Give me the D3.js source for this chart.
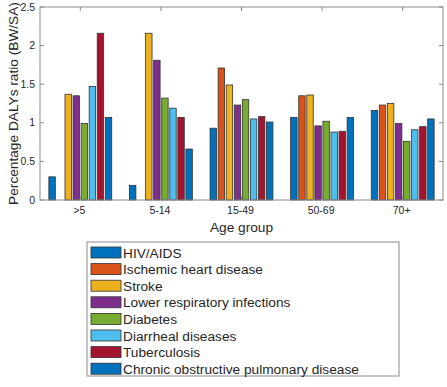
<!DOCTYPE html>
<html>
<head>
<meta charset="utf-8">
<script src="https://cdn.jsdelivr.net/npm/d3@7"></script>
<style>
  body { margin: 0; background: #fff; }
  text { font-family: "Liberation Sans", Arial, sans-serif; fill: #262626; }
</style>
</head>
<body>
<div id="container"></div>
<script>
/* DATA */
const ageGroups = [">5", "5-14", "15-49", "50-69", "70+"];
const diseases = ["HIV/AIDS", "Ischemic heart disease", "Stroke", "Lower respiratory infections",
  "Diabetes", "Diarrheal diseases", "Tuberculosis", "Chronic obstructive pulmonary disease"];
const colors = ["#0072BD", "#D95319", "#EDB120", "#7E2F8E", "#77AC30", "#4DBEEE", "#A2142F", "#0072BD"];
// one row per age group, one value per disease
const values = [
  [0.30, 0, 1.37, 1.35, 0.99, 1.47, 2.16, 1.07],
  [0.19, 0, 2.16, 1.81, 1.32, 1.19, 1.07, 0.66],
  [0.93, 1.71, 1.49, 1.23, 1.30, 1.05, 1.08, 1.01],
  [1.07, 1.35, 1.36, 0.96, 1.02, 0.88, 0.89, 1.07],
  [1.16, 1.23, 1.25, 0.99, 0.76, 0.91, 0.95, 1.05]
];
const yTicks = [0, 0.5, 1, 1.5, 2, 2.5];

/* LAYOUT */
const width = 447, height = 387;
const margin = {top: 7, left: 40, right: 4, bottom: 187}; // plot box 40..443 x 7..200

const svg = d3.select("#container").append("svg")
  .attr("width", width).attr("height", height);

// groups sit at 1..5 on a unit axis, like a matlab grouped bar
const xUnit = d3.scaleLinear()
  .domain([0.5, ageGroups.length + 0.5])
  .range([margin.left, width - margin.right]);

const groupWidth = 0.8;
const slot = groupWidth / diseases.length;   // 0.1 units per bar
const barW = xUnit(1 + slot * 0.8) - xUnit(1);

const yScale = d3.scaleLinear()
  .domain([0, 2.5])
  .range([200, margin.top]);

/* BARS */
const bars = [];
values.forEach((row, i) => row.forEach((v, j) => {
  if (v > 0) bars.push({g: i, j, v});
}));

svg.selectAll("rect.bar")
  .data(bars)
  .join("rect")
  .attr("class", "bar")
  .attr("x", d => xUnit(d.g + 1 + (d.j - 3.5) * slot) - barW / 2)
  .attr("width", barW)
  .attr("y", d => yScale(d.v))
  .attr("height", d => yScale(0) - yScale(d.v))
  .attr("fill", d => colors[d.j])
  .attr("stroke", "#333")
  .attr("stroke-width", 0.8);

/* AXES */
const axisColor = "#8a8a8a";
const x0 = margin.left, x1 = width - margin.right, y0 = yScale(0), y1 = yScale(2.5);

svg.append("rect")
  .attr("x", x0).attr("y", y1)
  .attr("width", x1 - x0).attr("height", y0 - y1)
  .attr("fill", "none").attr("stroke", axisColor).attr("stroke-width", 1);

// x ticks (inside, top and bottom)
ageGroups.forEach((g, i) => {
  const x = xUnit(i + 1);
  svg.append("line").attr("x1", x).attr("x2", x).attr("y1", y0).attr("y2", y0 - 4)
    .attr("stroke", axisColor);
  svg.append("line").attr("x1", x).attr("x2", x).attr("y1", y1).attr("y2", y1 + 4)
    .attr("stroke", axisColor);
  svg.append("text").attr("x", x - 1).attr("y", y0 + 14)
    .attr("text-anchor", "middle").attr("font-size", 10.5).text(g);
});

// y ticks
yTicks.forEach(t => {
  const y = yScale(t);
  svg.append("line").attr("x1", x0).attr("x2", x0 + 4).attr("y1", y).attr("y2", y)
    .attr("stroke", axisColor);
  svg.append("line").attr("x1", x1).attr("x2", x1 - 4).attr("y1", y).attr("y2", y)
    .attr("stroke", axisColor);
  svg.append("text").attr("x", x0 - 5).attr("y", y + 3.5)
    .attr("text-anchor", "end").attr("font-size", 10.5).text(t);
});

// axis titles
svg.append("text")
  .attr("transform", `translate(18,${(y0 + y1) / 2}) rotate(-90)`)
  .attr("text-anchor", "middle").attr("font-size", 13.7)
  .text("Percentage DALYs ratio (BW/SA)");

svg.append("text")
  .attr("x", (x0 + x1) / 2).attr("y", 232)
  .attr("text-anchor", "middle").attr("font-size", 13.7)
  .text("Age group");

/* LEGEND */
const legend = svg.append("g").attr("transform", "translate(87,242)");
legend.append("rect")
  .attr("width", 312).attr("height", 134)
  .attr("fill", "#fff").attr("stroke", axisColor).attr("stroke-width", 1);

const rowH = 16.6;
const items = legend.selectAll("g.item")
  .data(diseases)
  .join("g")
  .attr("class", "item")
  .attr("transform", (d, i) => `translate(0,${5 + i * rowH})`);

items.append("rect")
  .attr("x", 4).attr("width", 30).attr("height", 11)
  .attr("fill", (d, i) => colors[i])
  .attr("stroke", "#333").attr("stroke-width", 0.8);

items.append("text")
  .attr("x", 36).attr("y", 10.5)
  .attr("font-size", 13.7)
  .text(d => d);
</script>
</body>
</html>
